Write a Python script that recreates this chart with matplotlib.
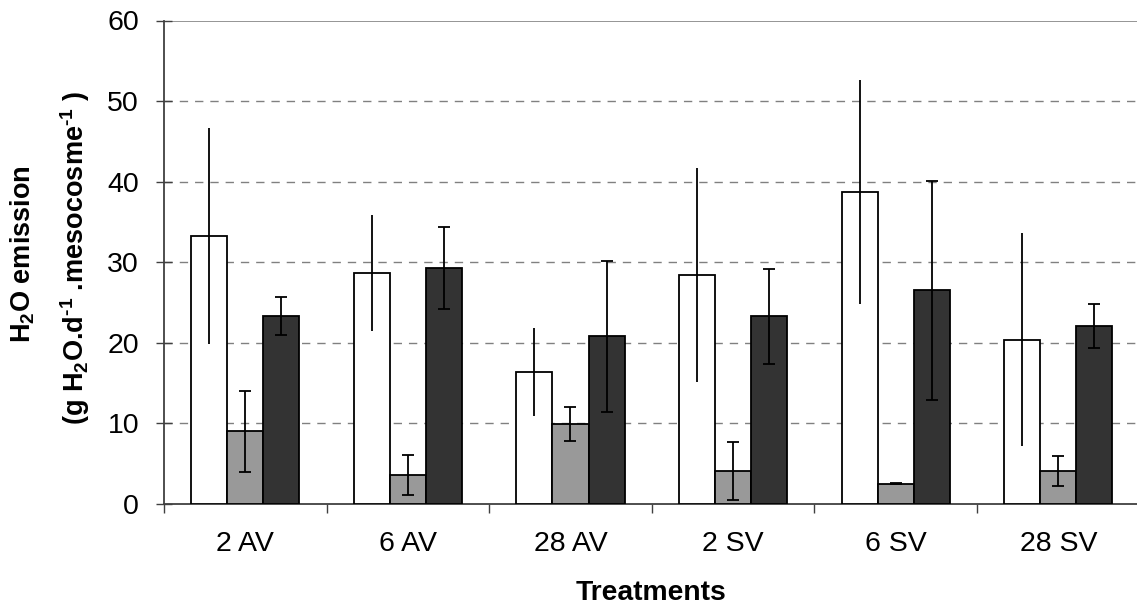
import numpy as np
import matplotlib
matplotlib.use("Agg")
from matplotlib import pyplot as plt

plt.rcParams['font.family'] = ['Liberation Sans', 'DejaVu Sans']
plt.rcParams['mathtext.fontset'] = 'custom'
plt.rcParams['mathtext.rm'] = 'Liberation Sans:bold'
plt.rcParams['mathtext.bf'] = 'Liberation Sans:bold'
plt.rcParams['mathtext.it'] = 'Liberation Sans:bold'

# data
treatments = ['2 AV', '6 AV', '28 AV', '2 SV', '6 SV', '28 SV']
white_vals = [33.3, 28.7, 16.4, 28.4, 38.7, 20.4]
white_err = [13.4, 7.2, 5.5, 13.3, 13.9, 13.2]
grey_vals = [9.0, 3.6, 9.9, 4.1, 2.5, 4.1]
grey_err = [5.0, 2.5, 2.1, 3.55, 0.05, 1.9]
dark_vals = [23.3, 29.3, 20.8, 23.3, 26.5, 22.1]
dark_err = [2.35, 5.1, 9.4, 5.9, 13.6, 2.75]

W, H = 1137, 608
fig = plt.figure(figsize=(W / 100, H / 100), dpi=100)
ax = fig.add_axes([164 / W, 1 - 504 / H, 975.6 / W, 483.5 / H])

x = np.arange(len(treatments))
bw = 0.222
ekw = dict(ecolor='black', elinewidth=1.3)
ax.bar(x - bw, white_vals, bw, color='white', edgecolor='black', linewidth=1.3,
       yerr=white_err, capsize=0, error_kw=ekw, zorder=3)
ax.bar(x, grey_vals, bw, color='#999999', edgecolor='black', linewidth=1.3,
       yerr=grey_err, capsize=4.5, error_kw=dict(ekw, capthick=1.3), zorder=3)
ax.bar(x + bw, dark_vals, bw, color='#333333', edgecolor='black', linewidth=1.3,
       yerr=dark_err, capsize=4.5, error_kw=dict(ekw, capthick=1.3), zorder=3)

ax.set_xlim(-0.5, len(treatments) - 0.5)
ax.set_ylim(0, 60)
ax.set_yticks(np.arange(0, 61, 10))
for yv in range(10, 60, 10):
    ax.axhline(yv, color='#808080', lw=1.0, dashes=(6, 5), zorder=1)
ax.axhline(60, color='#8c8c8c', lw=1.3, zorder=1)

ax.set_xticks(x)
ax.set_xticklabels(treatments, fontsize=20.5)
ax.tick_params(axis='x', which='major', length=0, pad=19.5)
ax.set_xticks(np.arange(-0.5, len(treatments), 1.0), minor=True)
ax.tick_params(axis='x', which='minor', length=6.5, width=1.0, direction='out', color='#404040')
ax.tick_params(axis='y', length=12, width=1.0, direction='inout', color='#404040',
               labelsize=20.5, pad=12)

for side in ['top', 'right']:
    ax.spines[side].set_visible(False)
for side in ['left', 'bottom']:
    ax.spines[side].set_color('#404040')
    ax.spines[side].set_linewidth(1.3)
ax.set_facecolor('none')

fig.text(651 / W, 1 - 593 / H, 'Treatments', fontsize=20.3, fontweight='bold',
         ha='center', va='center')
fig.text(23 / W, 1 - 254 / H, r'H$_2$O emission', fontsize=19.5, fontweight='bold',
         rotation=90, ha='center', va='center')
fig.text(75 / W, 1 - 258 / H,
         r'(g H$_2$O.d$^{\text{-1}}$ .mesocosme$^{\text{-1}}$ )', fontsize=19.5,
         fontweight='bold', rotation=90, ha='center', va='center')

fig.savefig('out.png', dpi=100)
